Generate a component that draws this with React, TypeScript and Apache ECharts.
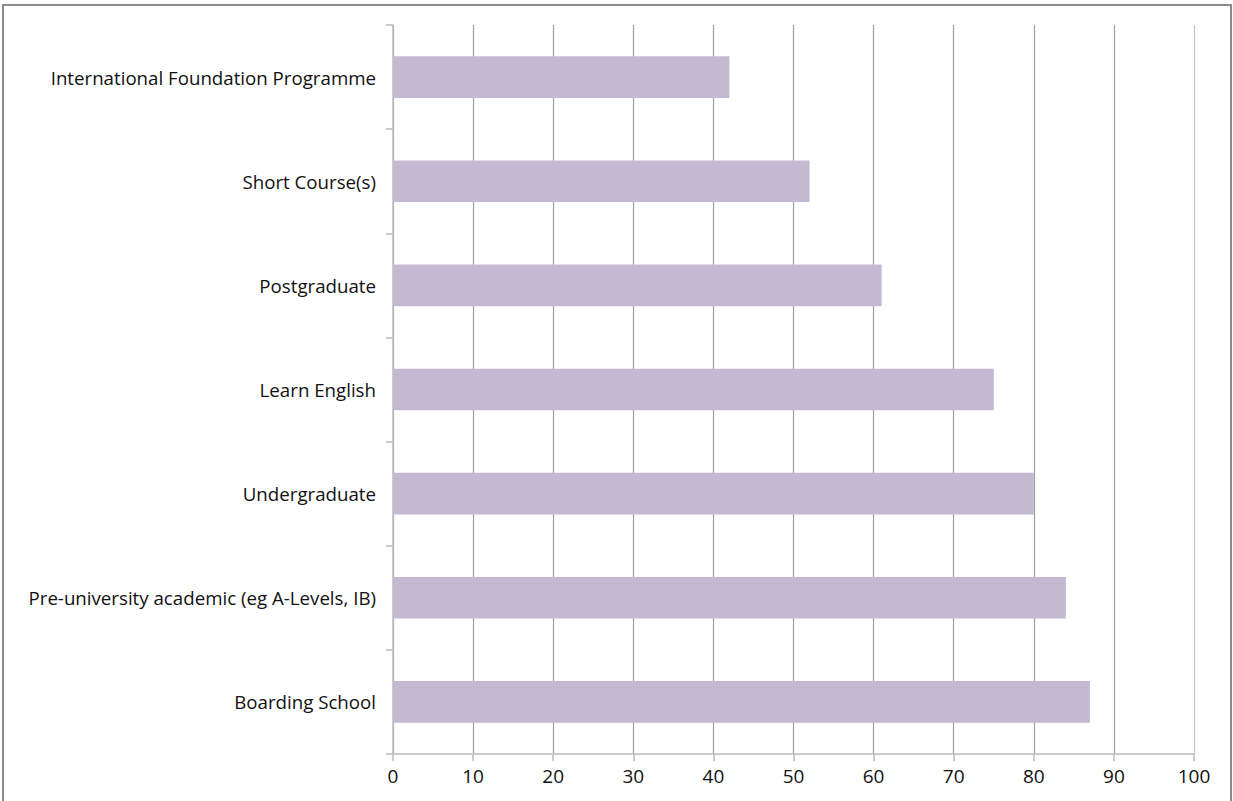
import React, { useEffect, useRef } from "react";
import * as echarts from "echarts";

const categories = [
  "International Foundation Programme",
  "Short Course(s)",
  "Postgraduate",
  "Learn English",
  "Undergraduate",
  "Pre-university academic (eg A-Levels, IB)",
  "Boarding School",
];
const values = [42, 52, 61, 75, 80, 84, 87];
const xTicks = { min: 0, max: 100, interval: 10 };

const FONT = "Open Sans";

export default function App() {
  const ref = useRef<HTMLDivElement>(null);
  useEffect(() => {
    document.body.style.margin = "0";
    const chart = echarts.init(ref.current!, null, { renderer: "svg" });
    const splitColors = Array.from({ length: 11 }, (_, i) => (i === 10 ? "#c4c4c4" : "#a0a0a0"));
    chart.setOption({
      animation: false,
      backgroundColor: "#ffffff",
      graphic: [
        {
          type: "rect",
          shape: { x: 3, y: 5, width: 1228, height: 830 },
          style: { fill: "none", stroke: "#8a8a8a", lineWidth: 2 },
          silent: true,
        },
      ],
      grid: { left: 393, right: 39, top: 25, bottom: 47, containLabel: false },
      xAxis: {
        type: "value",
        min: xTicks.min,
        max: xTicks.max,
        interval: xTicks.interval,
        axisLine: { show: true, lineStyle: { color: "#bdbdbd", width: 1.5 } },
        axisTick: { show: true, length: 7, lineStyle: { color: "#bdbdbd", width: 1.5 } },
        axisLabel: { color: "#111", fontFamily: FONT, fontSize: 19, margin: 12 },
        splitLine: { show: true, lineStyle: { color: splitColors, width: 1.2 } },
      },
      yAxis: {
        type: "category",
        data: categories,
        inverse: true,
        axisLine: { show: true, lineStyle: { color: "#bdbdbd", width: 1.5 } },
        axisTick: { show: true, length: 7, alignWithLabel: false, lineStyle: { color: "#bdbdbd", width: 1.5 } },
        axisLabel: { color: "#111", fontFamily: FONT, fontSize: 18.7, margin: 17 },
        splitLine: { show: false },
      },
      series: [
        {
          type: "bar",
          data: values,
          barWidth: "40%",
          itemStyle: { color: "#c3b9d0" },
        },
      ],
    });
    return () => chart.dispose();
  }, []);
  return <div ref={ref} style={{ width: 1233, height: 801 }} />;
}
